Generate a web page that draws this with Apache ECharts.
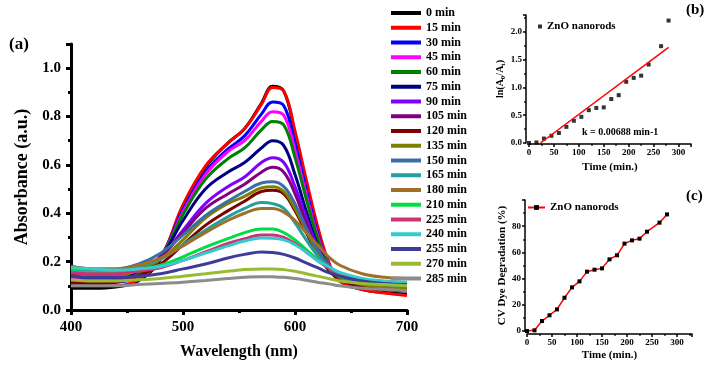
<!DOCTYPE html>
<html>
<head>
<meta charset="utf-8">
<script src="https://cdn.jsdelivr.net/npm/echarts@6/dist/echarts.min.js"></script>
<style>
    html, body { margin: 0; padding: 0; background: #fff; }
    #main { width: 709px; height: 365px; }
</style>
</head>
<body>
<div id="main"></div>
<script>
// 波长 (nm)
var wavelengths = [400, 420, 440, 460, 480, 500, 520, 540, 555, 570, 580, 590, 600, 610, 620, 630, 640, 660, 680, 700];

var abs0   = [0.09, 0.09, 0.095, 0.12, 0.21, 0.43, 0.59, 0.69, 0.75, 0.855, 0.925, 0.905, 0.73, 0.53, 0.34, 0.19, 0.12, 0.085, 0.072, 0.065];
var abs15  = [0.10, 0.10, 0.10, 0.125, 0.215, 0.435, 0.595, 0.69, 0.75, 0.85, 0.92, 0.905, 0.74, 0.54, 0.35, 0.20, 0.12, 0.085, 0.07, 0.06];
var abs30  = [0.12, 0.115, 0.115, 0.14, 0.22, 0.415, 0.57, 0.665, 0.72, 0.81, 0.86, 0.845, 0.69, 0.50, 0.32, 0.19, 0.13, 0.10, 0.085, 0.08];
var abs45  = [0.13, 0.125, 0.125, 0.15, 0.22, 0.405, 0.56, 0.655, 0.70, 0.78, 0.82, 0.805, 0.66, 0.48, 0.31, 0.19, 0.13, 0.10, 0.09, 0.085];
var abs60  = [0.12, 0.12, 0.12, 0.145, 0.22, 0.395, 0.54, 0.625, 0.67, 0.745, 0.78, 0.765, 0.63, 0.46, 0.30, 0.185, 0.13, 0.10, 0.09, 0.085];
var abs75  = [0.14, 0.135, 0.135, 0.16, 0.22, 0.37, 0.50, 0.57, 0.61, 0.67, 0.70, 0.68, 0.56, 0.41, 0.27, 0.18, 0.13, 0.10, 0.09, 0.085];
var abs90  = [0.15, 0.145, 0.145, 0.165, 0.22, 0.33, 0.44, 0.51, 0.55, 0.61, 0.63, 0.61, 0.51, 0.38, 0.26, 0.18, 0.135, 0.105, 0.095, 0.09];
var abs105 = [0.15, 0.145, 0.145, 0.165, 0.22, 0.32, 0.42, 0.48, 0.52, 0.57, 0.59, 0.57, 0.48, 0.36, 0.25, 0.175, 0.135, 0.105, 0.095, 0.09];
var abs120 = [0.11, 0.11, 0.115, 0.14, 0.19, 0.27, 0.35, 0.41, 0.45, 0.49, 0.495, 0.48, 0.41, 0.32, 0.23, 0.165, 0.125, 0.095, 0.085, 0.08];
var abs135 = [0.14, 0.14, 0.14, 0.165, 0.21, 0.29, 0.38, 0.44, 0.47, 0.505, 0.51, 0.49, 0.42, 0.33, 0.24, 0.175, 0.135, 0.105, 0.095, 0.09];
var abs150 = [0.18, 0.17, 0.17, 0.19, 0.235, 0.31, 0.39, 0.45, 0.49, 0.525, 0.53, 0.51, 0.44, 0.34, 0.25, 0.185, 0.145, 0.115, 0.105, 0.10];
var abs165 = [0.17, 0.165, 0.165, 0.18, 0.21, 0.27, 0.33, 0.385, 0.42, 0.445, 0.44, 0.42, 0.36, 0.29, 0.225, 0.175, 0.14, 0.115, 0.105, 0.10];
var abs180 = [0.18, 0.17, 0.17, 0.185, 0.215, 0.265, 0.32, 0.37, 0.40, 0.42, 0.42, 0.405, 0.37, 0.32, 0.27, 0.22, 0.185, 0.15, 0.135, 0.13];
var abs210 = [0.16, 0.155, 0.155, 0.165, 0.185, 0.22, 0.26, 0.295, 0.32, 0.335, 0.335, 0.32, 0.29, 0.25, 0.21, 0.175, 0.15, 0.125, 0.115, 0.11];
var abs225 = [0.155, 0.15, 0.15, 0.16, 0.175, 0.205, 0.24, 0.275, 0.295, 0.31, 0.31, 0.30, 0.275, 0.24, 0.205, 0.175, 0.15, 0.125, 0.115, 0.11];
var abs240 = [0.175, 0.17, 0.165, 0.17, 0.18, 0.205, 0.235, 0.265, 0.285, 0.298, 0.297, 0.29, 0.27, 0.24, 0.205, 0.18, 0.155, 0.13, 0.12, 0.115];
var abs255 = [0.14, 0.135, 0.135, 0.14, 0.15, 0.17, 0.19, 0.215, 0.23, 0.24, 0.238, 0.23, 0.215, 0.195, 0.175, 0.155, 0.14, 0.12, 0.11, 0.105];
var abs270 = [0.125, 0.12, 0.12, 0.125, 0.13, 0.14, 0.15, 0.16, 0.167, 0.17, 0.17, 0.167, 0.16, 0.15, 0.14, 0.13, 0.12, 0.11, 0.105, 0.10];
var abs285 = [0.10, 0.10, 0.10, 0.105, 0.11, 0.115, 0.122, 0.13, 0.135, 0.138, 0.137, 0.135, 0.13, 0.123, 0.115, 0.108, 0.10, 0.09, 0.085, 0.08];

var spectra = [abs0, abs15, abs30, abs45, abs60, abs75, abs90, abs105, abs120, abs135,
    abs150, abs165, abs180, abs210, abs225, abs240, abs255, abs270, abs285];
var spectraNames = ['0 min', '15 min', '30 min', '45 min', '60 min', '75 min', '90 min', '105 min', '120 min', '135 min',
    '150 min', '165 min', '180 min', '210 min', '225 min', '240 min', '255 min', '270 min', '285 min'];
var spectraColors = ['#000000', '#ff0000', '#0000ff', '#ff00ff', '#008000', '#000080', '#8000ff', '#800080', '#800000', '#808000',
    '#3a6ea5', '#22a0a0', '#a0702a', '#00dd44', '#cc3377', '#33cccc', '#3d3d99', '#99bb33', '#8c8c8c'];

// (b) 动力学
var timeB = [0, 15, 30, 45, 60, 75, 90, 105, 120, 135, 150, 165, 180, 195, 210, 225, 240, 265, 280];
var lnRatio = [0.0, 0.01, 0.08, 0.13, 0.18, 0.29, 0.40, 0.47, 0.59, 0.63, 0.64, 0.79, 0.86, 1.10, 1.17, 1.21, 1.41, 1.74, 2.20];
var fitTime = [23, 280];
var fitValue = [0, 1.72];

// (c) 降解率
var timeC = [0, 15, 30, 45, 60, 75, 90, 105, 120, 135, 150, 165, 180, 195, 210, 225, 240, 265, 280];
var degradation = [0, 0.5, 7.6, 12, 16.5, 25.4, 33.3, 37.9, 45.3, 46.8, 47.8, 54.7, 57.8, 66.7, 69.2, 70.5, 75.8, 82.7, 89];

var FONT = 'Liberation Serif';
var chartDom = document.getElementById('main');
var myChart = echarts.init(chartDom);

function pairs(xs, ys) {
    return xs.map(function (x, i) { return [x, ys[i]]; });
}

var series = spectra.map(function (vals, i) {
    return {
        name: spectraNames[i],
        type: 'line',
        xAxisIndex: 0,
        yAxisIndex: 0,
        smooth: 0.4,
        symbol: 'none',
        data: pairs(wavelengths, vals),
        lineStyle: { color: spectraColors[i], width: 3 },
        itemStyle: { color: spectraColors[i] }
    };
});

series.push({
    name: 'ZnO nanorods',
    type: 'scatter',
    xAxisIndex: 1,
    yAxisIndex: 1,
    symbol: 'rect',
    symbolSize: 4,
    itemStyle: { color: '#000' },
    data: pairs(timeB, lnRatio)
});
series.push({
    name: 'fit',
    type: 'line',
    xAxisIndex: 1,
    yAxisIndex: 1,
    symbol: 'none',
    lineStyle: { color: '#ff0000', width: 1.5 },
    data: pairs(fitTime, fitValue)
});
series.push({
    name: 'ZnO nanorods (c)',
    type: 'line',
    xAxisIndex: 2,
    yAxisIndex: 2,
    symbol: 'rect',
    symbolSize: 4,
    lineStyle: { color: '#ff0000', width: 1.5 },
    itemStyle: { color: '#000' },
    data: pairs(timeC, degradation)
});

var bold = { fontFamily: FONT, fontWeight: 'bold', color: '#000' };

function axisStyle(w, tickLen, fs, margin, fmt, showMax) {
    var label = Object.assign({ fontSize: fs, margin: margin, showMaxLabel: !!showMax }, bold);
    if (fmt) label.formatter = fmt;
    return {
        axisLine: { show: true, onZero: false, lineStyle: { color: '#000', width: w } },
        axisTick: { show: true, inside: false, length: tickLen, lineStyle: { color: '#000', width: w } },
        minorTick: { show: true, splitNumber: 2, length: tickLen * 0.6, lineStyle: { color: '#000', width: w } },
        splitLine: { show: false },
        axisLabel: label,
        nameTextStyle: Object.assign({}, bold)
    };
}

function oneDecimal(v) { return v.toFixed(1); }

var legendItems = spectraNames.map(function (n) { return { name: n, icon: 'rect' }; });

var option = {
    backgroundColor: '#fff',
    animation: false,
    grid: [
        { left: 71, top: 44, right: 302, bottom: 50 },
        { left: 529, top: 15, right: 18, bottom: 222 },
        { left: 527, top: 200, right: 17, bottom: 34 }
    ],
    xAxis: [
        Object.assign(axisStyle(3, 5, 15, 10, null, true), {
            gridIndex: 0, type: 'value', min: 400, max: 700, interval: 100,
            name: 'Wavelength (nm)', nameLocation: 'middle', nameGap: 34,
            nameTextStyle: Object.assign({ fontSize: 16 }, bold)
        }),
        Object.assign(axisStyle(1.5, 3, 9, 4), {
            gridIndex: 1, type: 'value', min: 0, max: 325, interval: 50, offset: 1,
            name: 'Time (min.)', nameLocation: 'middle', nameGap: 18,
            nameTextStyle: Object.assign({ fontSize: 11 }, bold)
        }),
        Object.assign(axisStyle(1.5, 3, 9, 4), {
            gridIndex: 2, type: 'value', min: 0, max: 330, interval: 50, offset: 3,
            name: 'Time (min.)', nameLocation: 'middle', nameGap: 16,
            nameTextStyle: Object.assign({ fontSize: 11 }, bold)
        })
    ],
    yAxis: [
        Object.assign(axisStyle(3, 5, 15, 10, oneDecimal), {
            gridIndex: 0, type: 'value', min: 0, max: 1.1, interval: 0.2,
            name: 'Absorbance (a.u.)', nameLocation: 'middle', nameGap: 40,
            nameTextStyle: Object.assign({ fontSize: 18 }, bold)
        }),
        Object.assign(axisStyle(1.5, 3, 9, 4, oneDecimal), {
            gridIndex: 1, type: 'value', min: 0, max: 2.3, interval: 0.5, offset: 3,
            name: 'ln(A{s|0}/A{s|t})', nameLocation: 'middle', nameGap: 17,
            nameTextStyle: Object.assign({
                fontSize: 10,
                rich: { s: { fontSize: 7, fontFamily: FONT, fontWeight: 'bold', padding: [5, 0, 0, 0] } }
            }, bold)
        }),
        Object.assign(axisStyle(1.5, 3, 9, 4), {
            gridIndex: 2, type: 'value', min: 0, max: 100, interval: 20, offset: 2,
            name: 'CV Dye Degradation (%)', nameLocation: 'middle', nameGap: 16,
            nameTextStyle: Object.assign({ fontSize: 11 }, bold)
        })
    ],
    legend: [
        {
            data: legendItems,
            orient: 'vertical',
            left: 391,
            top: 7,
            itemWidth: 30,
            itemHeight: 4,
            itemGap: 2.75,
            padding: 0,
            textStyle: Object.assign({ fontSize: 12 }, bold)
        },
        {
            data: [{ name: 'ZnO nanorods', icon: 'rect' }],
            left: 538,
            top: 21,
            itemWidth: 4,
            itemHeight: 4,
            padding: 0,
            textStyle: Object.assign({ fontSize: 11 }, bold)
        },
        {
            data: ['ZnO nanorods (c)'],
            left: 527,
            top: 202,
            itemWidth: 17,
            itemHeight: 6,
            padding: 0,
            formatter: function () { return 'ZnO nanorods'; },
            textStyle: Object.assign({ fontSize: 11 }, bold)
        }
    ],
    graphic: [
        { type: 'text', left: 9, top: 36, style: { text: '(a)', fontSize: 17, fontFamily: FONT, fontWeight: 'bold', fill: '#000' } },
        { type: 'text', left: 686, top: 3, style: { text: '(b)', fontSize: 15, fontFamily: FONT, fontWeight: 'bold', fill: '#000' } },
        { type: 'text', left: 686, top: 189, style: { text: '(c)', fontSize: 15, fontFamily: FONT, fontWeight: 'bold', fill: '#000' } },
        { type: 'text', left: 582, top: 127, style: { text: 'k = 0.00688 min-1', fontSize: 10, fontFamily: FONT, fontWeight: 'bold', fill: '#000' } }
    ],
    series: series
};

option && myChart.setOption(option);
</script>
</body>
</html>
